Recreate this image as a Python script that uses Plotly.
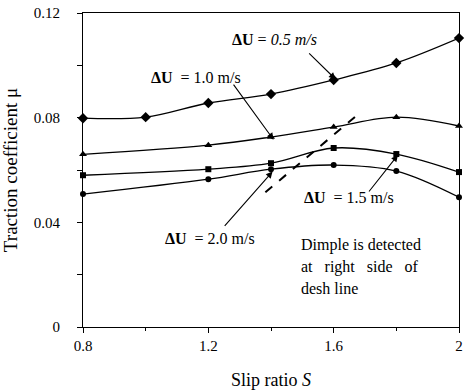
import plotly.graph_objects as go

# Data
x_05 = [0.8, 1.0, 1.2, 1.4, 1.6, 1.8, 2.0]
mu_05 = [0.0798, 0.0802, 0.0856, 0.0890, 0.0944, 0.1009, 0.1104]
x_s = [0.8, 1.2, 1.4, 1.6, 1.8, 2.0]
mu_10 = [0.0660, 0.0695, 0.0726, 0.0764, 0.0802, 0.0768]
mu_15 = [0.0580, 0.0603, 0.0626, 0.0684, 0.0661, 0.0592]
mu_20 = [0.0508, 0.0565, 0.0603, 0.0619, 0.0596, 0.0496]
dash_x = [1.382, 1.686]
dash_y = [0.0515, 0.0821]

FONT = "Liberation Serif"

fig = go.Figure()
series = [
    (x_05, mu_05, "diamond", 8),
    (x_s, mu_10, "triangle-up", 7),
    (x_s, mu_15, "square", 6),
    (x_s, mu_20, "circle", 6),
]
for xs, ys, sym, sz in series:
    fig.add_trace(go.Scatter(
        x=xs, y=ys, mode="lines+markers",
        line=dict(color="black", width=1.3, shape="spline", smoothing=1.0),
        marker=dict(symbol=sym, size=sz, color="black"),
        showlegend=False, cliponaxis=False,
    ))

fig.add_trace(go.Scatter(
    x=dash_x, y=dash_y, mode="lines",
    line=dict(color="black", width=2, dash="dash"),
    showlegend=False,
))

ann = []
def arrow(x, y, ax, ay):
    ann.append(dict(x=x, y=y, ax=ax, ay=ay, xref="x", yref="y", axref="x", ayref="y",
                    text="", showarrow=True, arrowhead=2, arrowsize=1.2, arrowwidth=1.1,
                    arrowcolor="black", standoff=0))

def label(x, y, text, xanchor="center", size=16):
    ann.append(dict(x=x, y=y, xref="x", yref="y", text=text, showarrow=False,
                    xanchor=xanchor, yanchor="middle",
                    font=dict(family=FONT, size=size, color="black")))

arrow(1.606, 0.0947, 1.517, 0.1051)
arrow(1.408, 0.0716, 1.277, 0.0932)
arrow(1.805, 0.0657, 1.709, 0.0512)
arrow(1.405, 0.0594, 1.248, 0.0381)

label(1.410, 0.1097, "<b>ΔU</b> = <i>0.5 m/s</i>")
label(1.160, 0.0955, "<b>ΔU</b>  = 1.0 m/s")
label(1.650, 0.0496, "<b>ΔU</b>  = 1.5 m/s")
label(1.206, 0.0339, "<b>ΔU</b>  = 2.0 m/s")

x_txt = 0.8 + (298 - 83) / 312.5
label(x_txt, 0.0313, "Dimple is detected", xanchor="left")
label(x_txt, 0.0229, "at\u00a0\u00a0 right\u00a0\u00a0 side\u00a0\u00a0 of", xanchor="left")
label(x_txt, 0.0148, "desh line", xanchor="left")

fig.update_layout(
    width=465, height=392,
    margin=dict(l=83, r=6, t=13, b=65),
    paper_bgcolor="white", plot_bgcolor="white",
    font=dict(family=FONT, color="black", size=15),
    annotations=ann,
    xaxis=dict(
        range=[0.8, 2.0], tickvals=[0.8, 1.2, 1.6, 2.0], ticktext=["0.8", "1.2", "1.6", "2"],
        ticks="outside", ticklen=5, tickcolor="black", showgrid=False, zeroline=False,
        showline=True, linecolor="black", linewidth=1.2, mirror=True, automargin=False,
        minor=dict(tickvals=[1.0, 1.4, 1.8], ticks="outside", ticklen=3, tickcolor="black"),
        tickfont=dict(family=FONT, size=15), ticklabeloverflow="allow",
        title=dict(text="Slip ratio <i>S</i>", font=dict(family=FONT, size=18), standoff=20),
    ),
    yaxis=dict(
        range=[0, 0.12], tickvals=[0, 0.04, 0.08, 0.12], ticktext=["0", "0.04", "0.08", "0.12"],
        ticks="outside", ticklen=5, tickcolor="black", showgrid=False, zeroline=False,
        showline=True, linecolor="black", linewidth=1.2, mirror=True, automargin=False,
        minor=dict(tickvals=[0.02, 0.06, 0.10], ticks="outside", ticklen=5, tickcolor="black"),
        tickfont=dict(family=FONT, size=15), ticklabeloverflow="allow",
        ticklabelstandoff=14,
        title=dict(text="Traction coefficient μ", font=dict(family=FONT, size=19), standoff=12),
    ),
)

fig.write_html("out.html", config={"displayModeBar": False},
               post_script="document.body.style.margin='0';")
